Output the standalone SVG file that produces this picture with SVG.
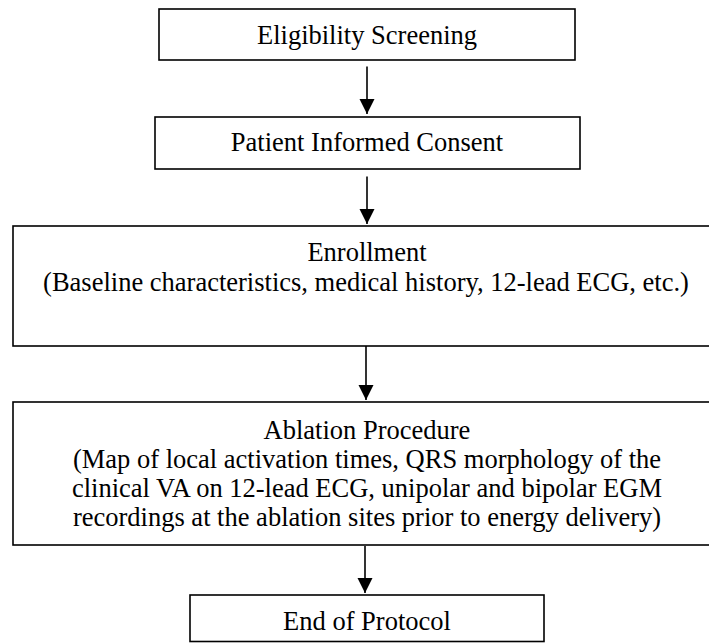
<svg xmlns="http://www.w3.org/2000/svg" width="709" height="643" viewBox="0 0 709 643">
<defs>
<style>
.box{fill:#fff;stroke:#000;stroke-width:1.6}
.t{font-family:'Liberation Serif','DejaVu Serif',serif;font-size:26.5px;fill:#000;text-anchor:middle}
.c{stroke:#000;stroke-width:1.6;fill:none}
</style>
<marker id="ah" markerUnits="userSpaceOnUse" markerWidth="16" markerHeight="17" refX="15" refY="7.5" orient="auto">
<path d="M0,0 L15,7.5 L0,15 Z" fill="#000"/>
</marker>
</defs>
<rect width="709" height="643" fill="#fff"/>
<g id="n1">
<rect class="box" x="159" y="9" width="416" height="51"/>
<text class="t" x="367" y="43.5" font-family="Liberation Serif, serif">Eligibility Screening</text>
</g>
<g id="n2">
<rect class="box" x="155" y="117" width="425" height="52"/>
<text class="t" x="367" y="150.5" font-family="Liberation Serif, serif">Patient Informed Consent</text>
</g>
<g id="n3">
<rect class="box" x="13" y="226" width="708" height="120"/>
<text class="t" x="367" y="261" font-family="Liberation Serif, serif">Enrollment</text>
<text class="t" x="366" y="291" font-family="Liberation Serif, serif">(Baseline characteristics, medical history, 12-lead ECG, etc.)</text>
</g>
<g id="n4">
<rect class="box" x="13" y="402" width="708" height="143"/>
<text class="t" x="367" y="438.5" font-family="Liberation Serif, serif">Ablation Procedure</text>
<text class="t" x="367" y="468" font-family="Liberation Serif, serif">(Map of local activation times, QRS morphology of the</text>
<text class="t" x="367" y="497" font-family="Liberation Serif, serif">clinical VA on 12-lead ECG, unipolar and bipolar EGM</text>
<text class="t" x="367" y="526" font-family="Liberation Serif, serif">recordings at the ablation sites prior to energy delivery)</text>
</g>
<g id="n5">
<rect class="box" x="190" y="595" width="354" height="46.5"/>
<text class="t" x="367" y="629.5" font-family="Liberation Serif, serif">End of Protocol</text>
</g>
<g id="connectors">
<line class="c" x1="367" y1="66.5" x2="367" y2="114" marker-end="url(#ah)"/>
<line class="c" x1="367" y1="176.5" x2="367" y2="224" marker-end="url(#ah)"/>
<line class="c" x1="366" y1="346" x2="366" y2="400" marker-end="url(#ah)"/>
<line class="c" x1="365" y1="546" x2="365" y2="593" marker-end="url(#ah)"/>
</g>
</svg>
